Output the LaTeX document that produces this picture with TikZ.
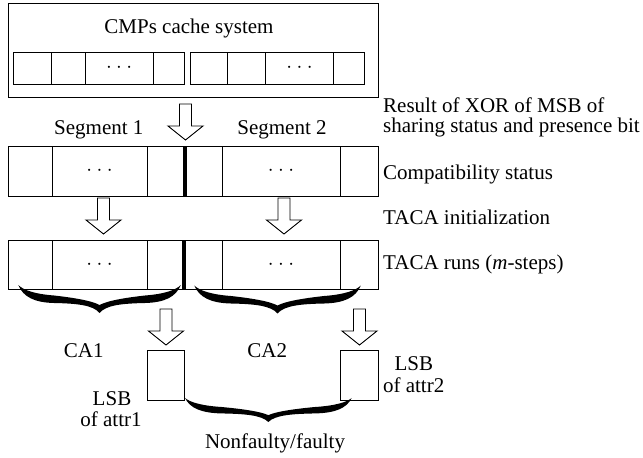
\documentclass[tikz,border=0pt]{standalone}
\usepackage{fontspec}
\setmainfont{Liberation Serif}
\usetikzlibrary{positioning}

% a cell of a row: name, x1, y1, x2, y2, content (y grows downwards)
\newcommand\cellat[6]{%
  \node[cellbox, minimum width={(#4)-(#2)}, minimum height={(#5)-(#3)}] (#1) at (#2,#3) {#6};}

% a heavy curly brace: left x, width, top y, height
\newcommand\heavybrace[4]{%
  \begin{scope}[shift={(#1,#3)}, xscale=#2, yscale=#4/28]
    \fill (0,0) .. controls (0.03,12) and (0.1,17.5) .. (0.22,18)
          .. controls (0.36,18.5) and (0.46,20) .. (0.5,28)
          .. controls (0.54,20) and (0.64,18.5) .. (0.78,18)
          .. controls (0.9,17.5) and (0.97,12) .. (1,0)
          .. controls (0.97,5) and (0.9,9) .. (0.78,10.5)
          .. controls (0.67,12.5) and (0.55,15.5) .. (0.5,20)
          .. controls (0.45,15.5) and (0.33,12.5) .. (0.22,10.5)
          .. controls (0.1,9) and (0.03,5) .. (0,0) -- cycle;
  \end{scope}}

\newcommand\celldots{$\cdot$\hspace{4.5pt}$\cdot$\hspace{4.5pt}$\cdot$}

\tikzset{
  cellbox/.style={draw, line width=0.9pt, inner sep=0pt, outer sep=0pt, anchor=north west,
                  font=\fontsize{21}{22}\selectfont},
  thickdiv/.style={line width=3.2pt},
  arrowline/.style={draw, line width=0.9pt, fill=white, line join=miter},
  lbl/.style={inner sep=0pt, font=\fontsize{21}{22}\selectfont},
  downarrow/.pic={\draw[arrowline] (-6,0) -- (6,0) -- (6,22) -- (17.5,22)
                   -- (0,36) -- (-17.5,22) -- (-6,22) -- cycle;}
}

\begin{document}
\begin{tikzpicture}[x=1pt, y=-1pt]
\useasboundingbox (0,0) rectangle (643,458);

% CMPs cache system with its cache lines
\node[cellbox, minimum width=370, minimum height=94] (cache) at (8,3) {};
\node[lbl, anchor=base] (title) at (189,33.5) {CMPs cache system};
\cellat{ca1}{13.3}{52}{51.7}{84}{}
\cellat{ca2}{51.7}{52}{85}{84}{}
\cellat{ca3}{85}{52}{153.3}{84}{\celldots}
\cellat{ca4}{153.3}{52}{184.3}{84}{}
\cellat{cb1}{190}{52}{227.7}{84}{}
\cellat{cb2}{227.7}{52}{265.7}{84}{}
\cellat{cb3}{265.7}{52}{333.3}{84}{\celldots}
\cellat{cb4}{333.3}{52}{364.3}{84}{}

% XOR step
\coordinate (a1) at (185.5,104);
\pic at (a1) {downarrow};
\node[lbl, anchor=base] (seg1) at (98.8,134) {Segment 1};
\node[lbl, anchor=base] (seg2) at (282,134) {Segment 2};

% compatibility status row
\cellat{s1}{8}{146}{52}{196}{}
\cellat{s2}{52}{146}{147}{196}{\celldots}
\cellat{s3}{147}{146}{185}{196}{}
\cellat{s4}{185}{146}{222}{196}{}
\cellat{s5}{222}{146}{340}{196}{\celldots}
\cellat{s6}{340}{146}{378}{196}{}
\draw[thickdiv] (s4.north west) -- (s4.south west);

% TACA initialization
\coordinate (a2) at (103.5,198);
\coordinate (a3) at (284,198);
\pic at (a2) {downarrow};
\pic at (a3) {downarrow};

% TACA runs row
\cellat{t1}{8}{240}{52}{289}{}
\cellat{t2}{52}{240}{147}{289}{\celldots}
\cellat{t3}{147}{240}{184}{289}{}
\cellat{t4}{184}{240}{222}{289}{}
\cellat{t5}{222}{240}{340}{289}{\celldots}
\cellat{t6}{340}{240}{378}{289}{}
\draw[thickdiv] (t4.north west) -- (t4.south west);

% the two cellular automata
\heavybrace{18.3}{162.5}{285}{28}
\heavybrace{194.3}{166.5}{285.5}{28}
\node[lbl, anchor=base] (ca1lbl) at (83.8,357) {CA1};
\node[lbl, anchor=base] (ca2lbl) at (267.2,357) {CA2};

\coordinate (a4) at (166,309);
\coordinate (a5) at (359.5,309);
\pic at (a4) {downarrow};
\pic at (a5) {downarrow};

% least significant bits of the attributes
\cellat{lsb1}{147}{350}{184}{400}{}
\cellat{lsb2}{340}{350}{378}{400}{}
\node[lbl, anchor=base] (lsb1a) at (112,405) {LSB};
\node[lbl, anchor=base] (lsb1b) at (111,426.5) {of attr1};
\node[lbl, anchor=base] (lsb2a) at (413.8,370) {LSB};
\node[lbl, anchor=base] (lsb2b) at (413.7,392) {of attr2};

\heavybrace{185}{166.7}{398}{24}
\node[lbl, anchor=base] (result) at (275,448) {Nonfaulty/faulty};

% step descriptions
\node[lbl, anchor=base west] (d1) at (383,112) {Result of XOR of MSB of};
\node[lbl, anchor=base west] (d2) at (383,132) {sharing status and presence bit};
\node[lbl, anchor=base west] (d3) at (383,179.3) {Compatibility status};
\node[lbl, anchor=base west] (d4) at (383,224) {TACA initialization};
\node[lbl, anchor=base west] (d5) at (383,269) {TACA runs (\textit{m}-steps)};
\end{tikzpicture}
\end{document}
